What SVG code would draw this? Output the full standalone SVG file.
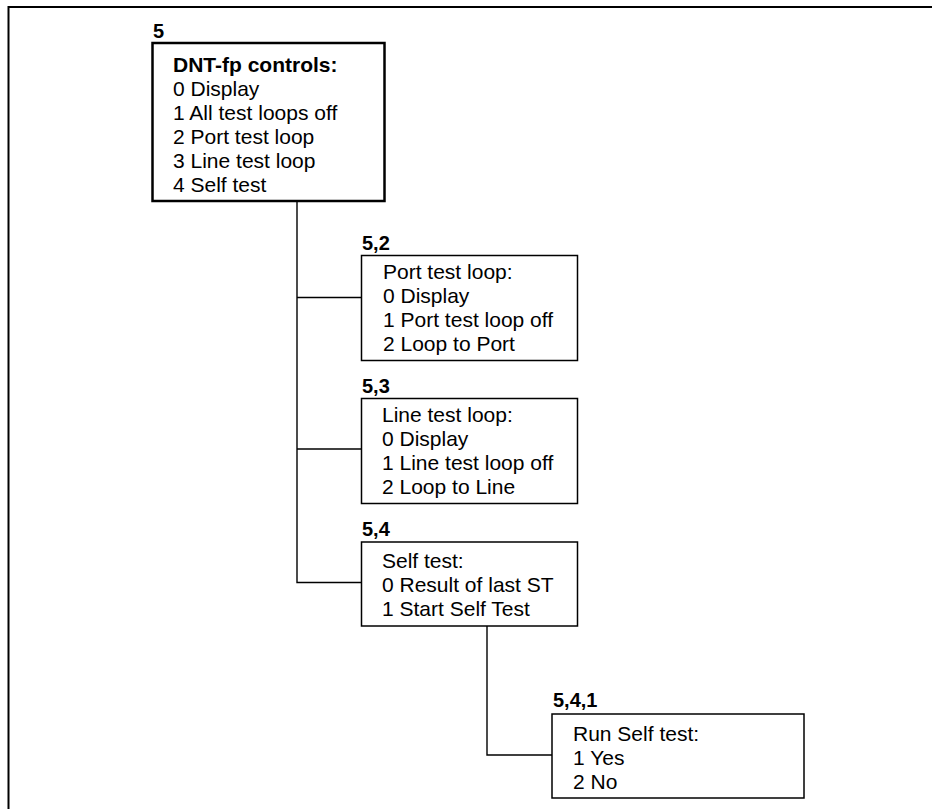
<svg xmlns="http://www.w3.org/2000/svg" width="932" height="809" viewBox="0 0 932 809">
<style>
text{font-family:"Liberation Sans",Arial,sans-serif;font-size:21px;fill:#000}
.b{font-weight:bold}
.lbl{font-weight:bold;font-size:20px}
.box{fill:#fff;stroke:#000;stroke-width:1.5}
.main{stroke-width:2.5}
.con{fill:none;stroke:#000;stroke-width:1.4}
</style>
<rect width="932" height="809" fill="#fff"/>
<path d="M8.5,809 V7 H932" fill="none" stroke="#000" stroke-width="2"/>
<g id="connectors">
<path class="con" d="M297,201 V582.5 H361.5"/>
<path class="con" d="M297,297.5 H361.5"/>
<path class="con" d="M297,449 H361.5"/>
<path class="con" d="M487,626 V755 H552"/>
</g>
<g id="n5">
<text class="lbl" x="153" y="38">5</text>
<rect class="box main" x="152.5" y="43" width="232" height="158"/>
<text class="b" x="173" y="72">DNT-fp controls:</text>
<text x="173" y="96">0 Display</text>
<text x="173" y="120">1 All test loops off</text>
<text x="173" y="144">2 Port test loop</text>
<text x="173" y="168">3 Line test loop</text>
<text x="173" y="192">4 Self test</text>
</g>
<g id="n52">
<text class="lbl" x="362" y="250">5,2</text>
<rect class="box" x="361.5" y="255.5" width="216" height="105"/>
<text x="383" y="279">Port test loop:</text>
<text x="383" y="303">0 Display</text>
<text x="383" y="327">1 Port test loop off</text>
<text x="383" y="351">2 Loop to Port</text>
</g>
<g id="n53">
<text class="lbl" x="362" y="393">5,3</text>
<rect class="box" x="361.5" y="398.5" width="216" height="105"/>
<text x="382" y="422">Line test loop:</text>
<text x="382" y="446">0 Display</text>
<text x="382" y="470">1 Line test loop off</text>
<text x="382" y="494">2 Loop to Line</text>
</g>
<g id="n54">
<text class="lbl" x="362" y="536">5,4</text>
<rect class="box" x="361.5" y="542" width="216" height="84"/>
<text x="382" y="568">Self test:</text>
<text x="382" y="592">0 Result of last ST</text>
<text x="382" y="616">1 Start Self Test</text>
</g>
<g id="n541">
<text class="lbl" x="553" y="707">5,4,1</text>
<rect class="box" x="552" y="714" width="252" height="84" stroke-width="1.7"/>
<text x="573" y="741">Run Self test:</text>
<text x="573" y="765">1 Yes</text>
<text x="573" y="789">2 No</text>
</g>
</svg>
